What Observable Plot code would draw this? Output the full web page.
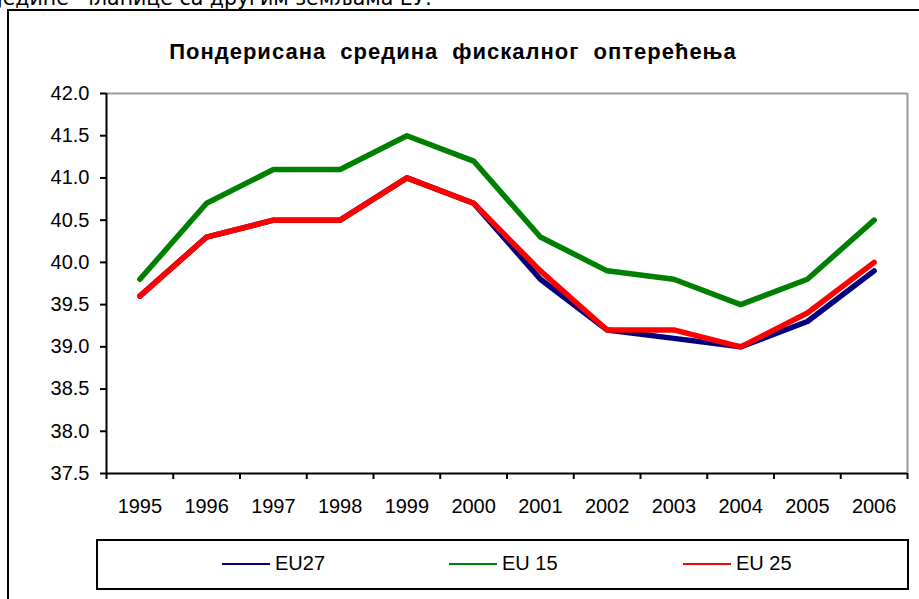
<!DOCTYPE html>
<html><head><meta charset="utf-8">
<script src="https://cdn.jsdelivr.net/npm/d3@7"></script>
<script src="https://cdn.jsdelivr.net/npm/@observablehq/plot@0.6"></script>
<style>
body{margin:0;background:#fff;}
#page{position:relative;width:919px;height:599px;overflow:hidden;font-family:"Liberation Sans",Arial,sans-serif;background:#fff;}
#toptext{position:absolute;left:-3px;top:-14px;font-family:"DejaVu Sans",sans-serif;font-size:20.5px;line-height:24px;white-space:pre;color:#000;}
#frame{position:absolute;left:7px;top:9px;width:1000px;height:1000px;border:2px solid #000;}
#title{position:absolute;left:0;width:906px;top:39px;text-align:center;font-weight:bold;font-size:22px;line-height:26px;letter-spacing:1px;word-spacing:7px;color:#000;}
#chart{position:absolute;left:0;top:0;}
#legend{position:absolute;left:96px;top:539px;width:809px;height:47px;border:2px solid #000;background:#fff;}
.sw{position:absolute;height:2px;top:563px;}
.lt{position:absolute;top:551px;font-size:20px;line-height:24px;color:#000;}
</style></head>
<body>
<div id="page">
  <div id="toptext">једине  чланице са другим земљама ЕУ.</div>
  <div id="frame"></div>
  <div id="title">Пондерисана  средина  фискалног  оптерећења</div>
  <div id="legend"></div>
  <div id="chart"></div>
  <div id="leg"></div>
</div>
<script>
const years = [1995,1996,1997,1998,1999,2000,2001,2002,2003,2004,2005,2006];
const eu27 = [39.6,40.3,40.5,40.5,41.0,40.7,39.8,39.2,39.1,39.0,39.3,39.9];
const eu15 = [39.8,40.7,41.1,41.1,41.5,41.2,40.3,39.9,39.8,39.5,39.8,40.5];
const eu25 = [39.6,40.3,40.5,40.5,41.0,40.7,39.9,39.2,39.2,39.0,39.4,40.0];
const yTicks = [37.5,38.0,38.5,39.0,39.5,40.0,40.5,41.0,41.5,42.0];
const seriesNames = ["EU27","EU 15","EU 25"];
const seriesColors = ["#000080","#008000","#FF0000"];

const seriesValues = [eu27, eu15, eu25];
const data = [];
seriesNames.forEach((s,i)=>years.forEach((y,j)=>data.push({series:s, year:y, value:seriesValues[i][j]})));
const bounds = [...years.map(y=>y-0.5), years[years.length-1]+0.5];

const chart = Plot.plot({
  width: 919, height: 599,
  marginLeft: 106, marginRight: 12, marginTop: 93, marginBottom: 126,
  style: {fontFamily: '"Liberation Sans", Arial, sans-serif', fontSize: "20px", background: "transparent", overflow: "visible"},
  x: {type: "linear", domain: [bounds[0], bounds[bounds.length-1]]},
  y: {domain: [37.5, 42]},
  color: {domain: seriesNames, range: seriesColors},
  marks: [
    Plot.ruleY([42], {stroke: "#999", strokeWidth: 2}),
    Plot.ruleX([bounds[bounds.length-1]], {stroke: "#999", strokeWidth: 2}),
    Plot.axisY({ticks: yTicks, tickFormat: d => d.toFixed(1), tickSize: 6, tickPadding: 11, stroke: "#000", strokeWidth: 2, strokeOpacity: 1, fill: "#000", label: null}),
    Plot.axisX({ticks: bounds, tickFormat: () => "", tickSize: 6, stroke: "#000", strokeWidth: 2, strokeOpacity: 1, label: null}),
    Plot.axisX({ticks: years, tickFormat: d => String(d), tickSize: 0, tickPadding: 25, fill: "#000", label: null}),
    Plot.ruleX([bounds[0]], {stroke: "#000", strokeWidth: 2}),
    Plot.ruleY([37.5], {stroke: "#000", strokeWidth: 2}),
    Plot.line(data, {x: "year", y: "value", z: "series", stroke: "series", strokeWidth: 5.5, strokeLinecap: "round", strokeLinejoin: "round"})
  ]
});
document.getElementById("chart").appendChild(chart);

// legend
const legX = [222, 449, 683];
const leg = document.getElementById("leg");
seriesNames.forEach((s,i)=>{
  const sw = document.createElement("div");
  sw.className = "sw";
  sw.style.left = legX[i] + "px";
  sw.style.width = "48px";
  sw.style.background = seriesColors[i];
  leg.appendChild(sw);
  const t = document.createElement("div");
  t.className = "lt";
  t.style.left = (legX[i] + 53) + "px";
  t.textContent = s;
  leg.appendChild(t);
});
</script>
</body></html>
